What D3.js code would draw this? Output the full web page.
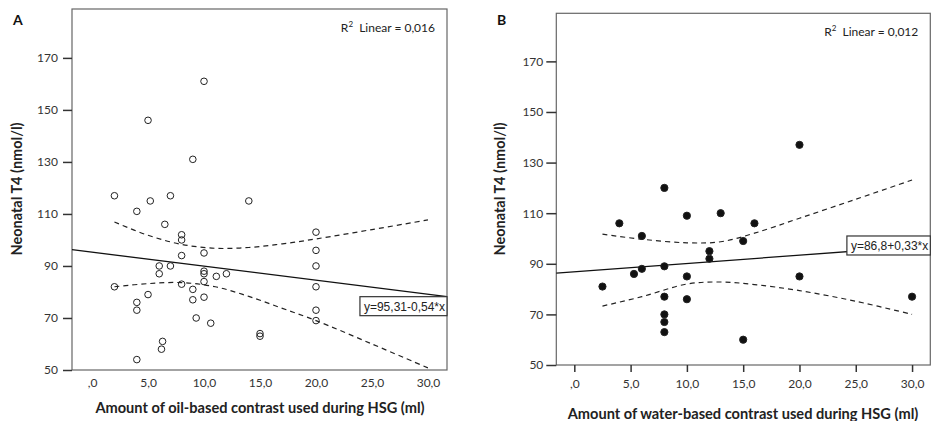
<!DOCTYPE html>
<html>
<head>
<meta charset="UTF-8">
<script src="https://d3js.org/d3.v7.min.js"></script>
<style>
body { margin: 0; background: #fff; }
svg text { font-family: Lato, "Open Sans", sans-serif; }
.tick text { fill: #333; font-size: 12px; }
.tick line { stroke: #333; }
.eq text { font-family: "Liberation Sans", Arial, sans-serif; font-size: 12px; fill: #222; }
</style>
</head>
<body>
<svg id="chart" width="934" height="421"></svg>
<script>
var yTicks = [50, 70, 90, 110, 130, 150, 170];
var xTicks = [0, 5, 10, 15, 20, 25, 30];

// A: oil-based contrast
var oilMl = [10, 5, 9, 2, 5.2, 7, 14, 4, 6.5, 8, 8, 10, 8, 6, 7, 6, 10, 10, 11.1, 12, 2,
             8, 10, 9, 5, 4, 9, 10, 4, 9.3, 10.6, 15, 15, 6.3, 6.2, 4, 20, 20, 20, 20, 20, 20];
var oilT4 = [161, 146, 131, 117, 115, 117, 115, 111, 106, 102, 100, 95, 94, 90, 90, 87, 88, 87, 86, 87, 82,
             83, 84, 81, 79, 76, 77, 78, 73, 70, 68, 64, 63, 61, 58, 54, 103, 96, 90, 82, 73, 69];
var oilFit = [95.31, -0.54];
var oilCiX = [2, 5, 8, 11, 14, 17, 20, 25, 30];
var oilCiUpper = [106.9, 101.8, 98.3, 96.8, 97.1, 98.5, 100.4, 104, 107.7];
var oilCiLower = [82, 83.2, 83.6, 82, 78.3, 73.7, 69, 60, 50.8];

// B: water-based contrast
var waterMl = [8, 20, 4, 10, 13, 16, 6, 15, 12, 12, 6, 5.3, 8, 10, 20, 2.5, 8, 10, 30, 8, 8, 8, 15];
var waterT4 = [120, 137, 106, 109, 110, 106, 101, 99, 95, 92, 88, 86, 89, 85, 85, 81, 77, 76, 77, 70, 67, 63, 60];
var waterFit = [86.8, 0.33];
var waterCiX = [2.5, 6, 10, 13, 16, 20, 25, 30];
var waterCiUpper = [101.7, 99.7, 98.3, 98.7, 102.1, 108, 115.5, 123.1];
var waterCiLower = [73.3, 77, 82, 82.8, 81.8, 79.4, 75.2, 70];

var svg = d3.select("#chart");

function fmtTick(v)
{
	var s = d3.format(".1f")(v).replace(".", ",");
	return s.replace(/^0,/, ",");
}

function drawPanel(p)
{
	var x = d3.scaleLinear().domain(p.xDomain).range([p.left, p.right]);
	var y = d3.scaleLinear().domain(p.yDomain).range([p.bottom, p.top]);
	var g = svg.append("g");

	g.append("rect")
		.attr("x", p.left).attr("y", p.top)
		.attr("width", p.right - p.left).attr("height", p.bottom - p.top)
		.attr("fill", "#fff").attr("stroke", "#666").attr("stroke-width", 1.2);

	var ya = g.append("g")
		.attr("transform", "translate(" + p.left + ",0)")
		.call(d3.axisLeft(y).tickValues(yTicks).tickSize(p.yTickSize).tickPadding(p.yPad));
	ya.select(".domain").remove();

	var xa = g.append("g")
		.attr("transform", "translate(0," + p.bottom + ")")
		.call(d3.axisBottom(x).tickValues(xTicks).tickFormat(fmtTick).tickSize(p.xTickSize).tickPadding(p.xPad));
	xa.select(".domain").remove();
	xa.selectAll("line").attr("stroke-width", 1.5);
	ya.selectAll("line").attr("stroke-width", 1.5);

	var ci = d3.line()
		.x(function(d){ return x(d[0]); })
		.y(function(d){ return y(d[1]); })
		.curve(d3.curveCatmullRom);
	[p.ciUpper, p.ciLower].forEach(function(band)
	{
		g.append("path")
			.datum(p.ciX.map(function(v, i){ return [v, band[i]]; }))
			.attr("d", ci)
			.attr("fill", "none").attr("stroke", "#222")
			.attr("stroke-width", 1.2).attr("stroke-dasharray", "5,4");
	});

	var x0 = p.xDomain[0], x1 = p.xDomain[1];
	var fy = function(v){ return p.fit[0] + p.fit[1] * v; };
	g.append("line")
		.attr("x1", x(x0)).attr("y1", y(fy(x0)))
		.attr("x2", x(x1)).attr("y2", y(fy(x1)))
		.attr("stroke", "#111").attr("stroke-width", 1.3);

	g.selectAll("circle.pt")
		.data(p.xs.map(function(v, i){ return [v, p.ys[i]]; }))
		.enter()
		.append("circle")
		.attr("class", "pt")
		.attr("cx", function(d){ return x(d[0]); })
		.attr("cy", function(d){ return y(d[1]); })
		.attr("r", p.filled ? 3.6 : 3.3)
		.attr("fill", p.filled ? "#111" : "none")
		.attr("stroke", "#222").attr("stroke-width", 1);

	// equation label at the end of the fit line
	var eq = g.append("g").attr("class", "eq");
	var t = eq.append("text").text(p.eqText).attr("text-anchor", "end");
	var w = t.node().getComputedTextLength() + 6, h = 19;
	var ey = y(fy(x1));
	var by = p.eqAnchor === "top" ? ey : ey - h / 2;
	eq.insert("rect", "text")
		.attr("x", p.right - w).attr("y", by).attr("width", w).attr("height", h)
		.attr("fill", "#fff").attr("stroke", "#333").attr("stroke-width", 1.2);
	t.attr("x", p.right - 2).attr("y", by + 14);

	var r2 = g.append("text")
		.attr("x", p.right - 12).attr("y", p.top + p.r2Dy)
		.attr("text-anchor", "end")
		.style("font-size", "12px").attr("fill", "#222");
	r2.append("tspan").text("R");
	r2.append("tspan").text("2").attr("dy", -5).style("font-size", "8px");
	r2.append("tspan").text("  Linear = " + p.r2).attr("dy", 5).attr("xml:space", "preserve");

	g.append("text")
		.attr("x", p.labelX).attr("y", 25)
		.text(p.label)
		.style("font-size", "14px").style("font-weight", "bold").attr("fill", "#111");

	g.append("text")
		.attr("transform", "translate(" + p.yTitleX + "," + 189 + ") rotate(-90)")
		.attr("text-anchor", "middle").attr("dy", "0.35em")
		.text("Neonatal T4 (nmol/l)")
		.style("font-size", "14.5px").style("font-weight", "bold").attr("fill", "#222");

	g.append("text")
		.attr("x", p.xTitleX).attr("y", p.xTitleY)
		.attr("text-anchor", "middle")
		.text(p.xTitle)
		.style("font-size", "14.6px").style("font-weight", "bold").attr("fill", "#222");
}

drawPanel({
	left: 72, right: 447, top: 9, bottom: 370,
	xDomain: [-1.79, 31.7], yDomain: [50, 188.8],
	yTickSize: 9, yPad: 5, xTickSize: 0, xPad: 8,
	xs: oilMl, ys: oilT4, filled: false, fit: oilFit,
	ciX: oilCiX, ciUpper: oilCiUpper, ciLower: oilCiLower,
	eqText: "y=95,31-0,54*x", eqAnchor: "top", r2: "0,016", r2Dy: 23,
	label: "A", labelX: 13, yTitleX: 17,
	xTitle: "Amount of oil-based contrast used during HSG (ml)", xTitleX: 260, xTitleY: 413
});

drawPanel({
	left: 556.3, right: 930.3, top: 13.3, bottom: 365,
	xDomain: [-1.6, 31.62], yDomain: [50, 189],
	yTickSize: 10, yPad: 3, xTickSize: 7, xPad: 7,
	xs: waterMl, ys: waterT4, filled: true, fit: waterFit,
	ciX: waterCiX, ciUpper: waterCiUpper, ciLower: waterCiLower,
	eqText: "y=86,8+0,33*x", eqAnchor: "middle", r2: "0,012", r2Dy: 23,
	label: "B", labelX: 497, yTitleX: 500,
	xTitle: "Amount of water-based contrast used during HSG (ml)", xTitleX: 743, xTitleY: 419
});
</script>
</body>
</html>
